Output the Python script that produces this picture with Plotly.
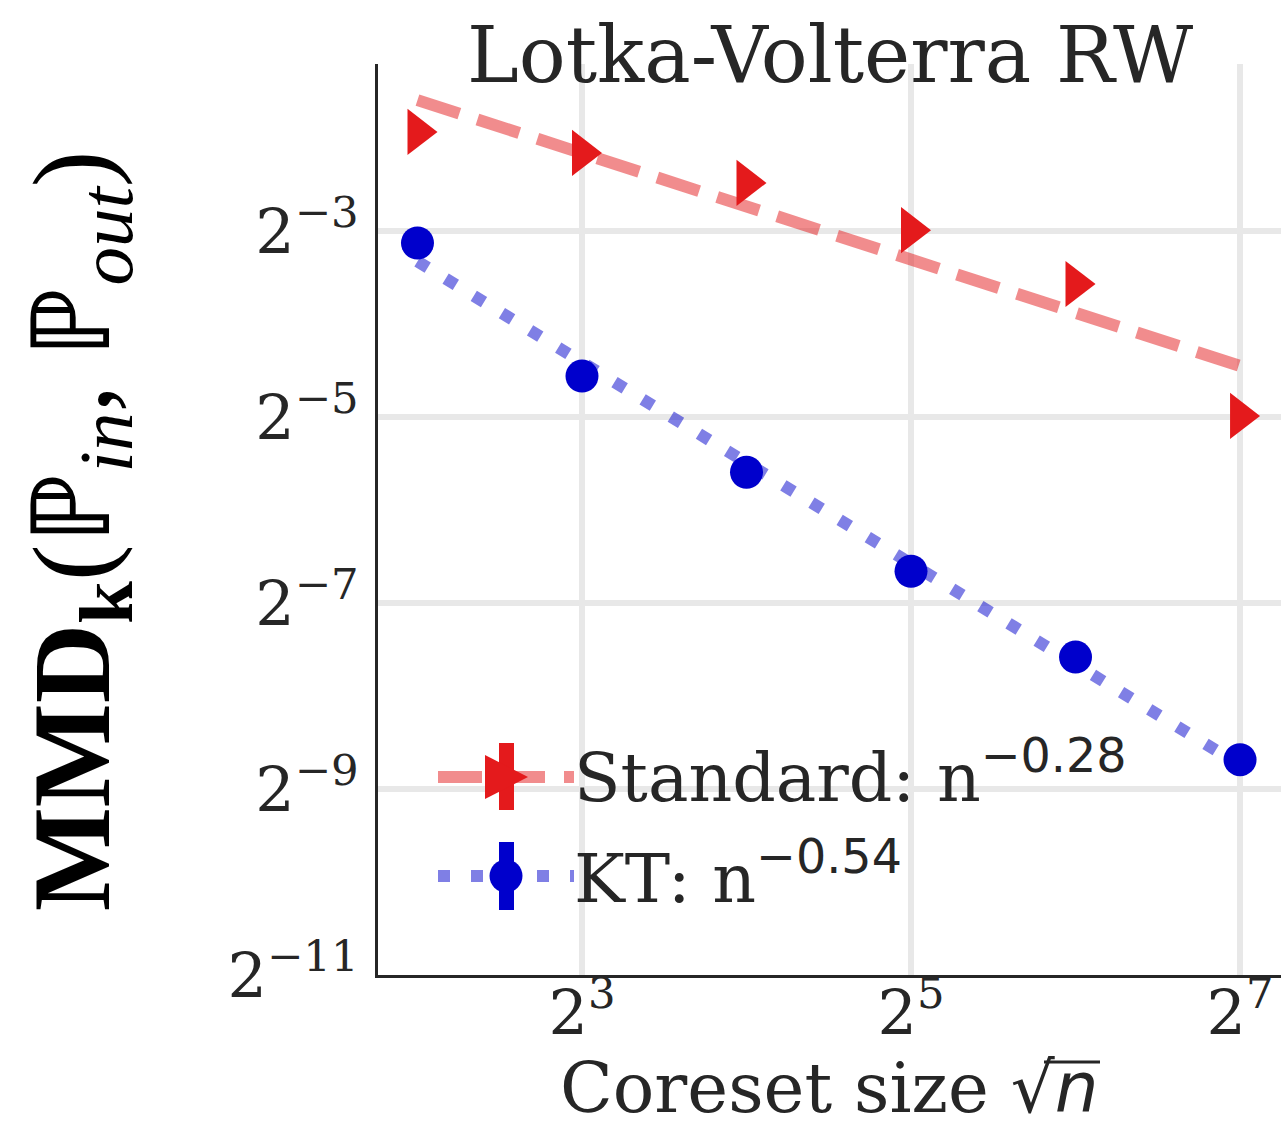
import numpy as np
import plotly.graph_objects as go

# ---------------- data ----------------
coreset_size = [4, 8, 16, 32, 64, 128]            # sqrt(n)
standard_mmd = [0.2616, 0.2237, 0.1789, 0.1258, 0.0842, 0.0315]
kt_mmd = [0.1143, 0.0424, 0.0207, 0.00990, 0.00522, 0.00243]
series_names = ["Standard", "KT"]
rate_labels = ["\u22120.28", "\u22120.54"]
x_tick_vals = [8, 32, 128]
x_tick_text = ["2<sup>3</sup>", "2<sup>5</sup>", "2<sup>7</sup>"]
y_tick_vals = [2.0 ** -3, 2.0 ** -5, 2.0 ** -7, 2.0 ** -9, 2.0 ** -11]
y_tick_text = ["2<sup>\u22123</sup>", "2<sup>\u22125</sup>", "2<sup>\u22127</sup>",
               "2<sup>\u22129</sup>", "2<sup>\u221211</sup>"]

# ---------------- styling ----------------
RED = "#e41a1c"
RED_LINE = "rgba(228,26,28,0.5)"
BLUE = "#0000cc"
BLUE_LINE = "rgba(0,0,204,0.5)"
TXT = "#262626"
GRID = "#e8e8e8"
SERIF = "DejaVu Serif"

W_FIG, H_FIG = 1281, 1126
L, R, T, B = 378, 1281, 64, 975
PW, PH = R - L, B - T


def px(xp):
    return (xp - L) / PW


def py(yp):
    return (B - yp) / PH


def loglog_fit(x, y):
    lx, ly = np.log2(x), np.log2(y)
    slope, icpt = np.polyfit(lx, ly, 1)
    return [2.0 ** (icpt + slope * v) for v in lx]


fig = go.Figure()

# fitted rate lines
fig.add_trace(go.Scatter(x=coreset_size, y=loglog_fit(coreset_size, standard_mmd),
                         mode="lines", line=dict(color=RED_LINE, width=12, dash="44px,19px"),
                         showlegend=False, hoverinfo="skip"))
fig.add_trace(go.Scatter(x=coreset_size, y=loglog_fit(coreset_size, kt_mmd),
                         mode="lines", line=dict(color=BLUE_LINE, width=12, dash="12px,21px"),
                         showlegend=False, hoverinfo="skip"))
# markers
fig.add_trace(go.Scatter(x=coreset_size, y=standard_mmd, mode="markers", name=series_names[0],
                         marker=dict(symbol="triangle-right", size=40, color=RED, line=dict(width=0)),
                         showlegend=False))
fig.add_trace(go.Scatter(x=coreset_size, y=kt_mmd, mode="markers", name=series_names[1],
                         marker=dict(symbol="circle", size=33, color=BLUE, line=dict(width=0)),
                         showlegend=False))

l2 = np.log10(2)
fig.update_xaxes(type="log", range=[1.760 * l2, 7.249 * l2],
                 tickvals=x_tick_vals, ticktext=x_tick_text,
                 tickfont=dict(family=SERIF, size=62, color=TXT),
                 showgrid=True, gridcolor=GRID, gridwidth=6,
                 showline=True, linecolor=TXT, linewidth=3, ticks="",
                 zeroline=False, ticklabelstandoff=-18)
fig.update_yaxes(type="log", range=[-11 * l2, -1.204 * l2],
                 tickvals=y_tick_vals, ticktext=y_tick_text,
                 tickfont=dict(family=SERIF, size=62, color=TXT),
                 showgrid=True, gridcolor=GRID, gridwidth=6,
                 showline=True, linecolor=TXT, linewidth=3, ticks="",
                 zeroline=False, ticklabelstandoff=4)

# ---------------- custom legend (glyphs) ----------------
shapes = []
# Standard
shapes.append(dict(type="line", xref="paper", yref="paper", x0=px(438), x1=px(574), y0=py(777), y1=py(777),
                   line=dict(color=RED_LINE, width=12, dash="44px,19px")))
shapes.append(dict(type="line", xref="paper", yref="paper", x0=px(506.5), x1=px(506.5), y0=py(743), y1=py(810),
                   line=dict(color=RED, width=15)))
shapes.append(dict(type="path", xref="paper", yref="paper",
                   path=f"M{px(485)},{py(755)} L{px(528)},{py(777)} L{px(485)},{py(799)} Z",
                   fillcolor=RED, line=dict(width=0)))
# KT
shapes.append(dict(type="line", xref="paper", yref="paper", x0=px(438), x1=px(574), y0=py(876), y1=py(876),
                   line=dict(color=BLUE_LINE, width=12, dash="12px,21px")))
shapes.append(dict(type="line", xref="paper", yref="paper", x0=px(506.5), x1=px(506.5), y0=py(842), y1=py(910),
                   line=dict(color=BLUE, width=15)))
shapes.append(dict(type="circle", xref="paper", yref="paper", x0=px(489.5), x1=px(522.5), y0=py(859.5), y1=py(892.5),
                   fillcolor=BLUE, line=dict(width=0)))
# vinculum of the square-root sign in the x-axis title
shapes.append(dict(type="line", xref="paper", yref="paper", x0=px(1044), x1=px(1100), y0=py(1062), y1=py(1062),
                   line=dict(color=TXT, width=3)))

SANS_SUP = '<sup><span style="font-family:DejaVu Sans">{}</span></sup>'
annotations = [
    dict(text=f"{series_names[0]}: n" + SANS_SUP.format(rate_labels[0]), xref="paper", yref="paper",
         x=px(572), y=py(772), xanchor="left", yanchor="middle", showarrow=False,
         font=dict(family=SERIF, size=68, color=TXT)),
    dict(text=f"{series_names[1]}: n" + SANS_SUP.format(rate_labels[1]), xref="paper", yref="paper",
         x=px(572), y=py(873), xanchor="left", yanchor="middle", showarrow=False,
         font=dict(family=SERIF, size=68, color=TXT)),
    # title
    dict(text="Lotka-Volterra RW", xref="paper", yref="paper", x=px(830), y=py(55),
         xanchor="center", yanchor="middle", showarrow=False,
         font=dict(family=SERIF, size=78, color=TXT)),
    # x axis title
    dict(text='Coreset size <span style="font-family:DejaVu Sans">\u221a<i>n</i></span>',
         xref="paper", yref="paper", x=px(829), y=py(1088),
         xanchor="center", yanchor="middle", showarrow=False,
         font=dict(family=SERIF, size=69, color=TXT)),
    # y axis title
    dict(text="<b>MMD</b><sub><b>k</b></sub>(\u2119<sub><i>in</i></sub>, \u2119<sub><i>out</i></sub>)",
         xref="paper", yref="paper", x=px(80), y=py(531),
         xanchor="center", yanchor="middle", showarrow=False, textangle=-90,
         font=dict(family="Liberation Serif", size=110, color="black")),
]

fig.update_layout(width=W_FIG, height=H_FIG, autosize=False,
                  margin=dict(l=L, r=W_FIG - R, t=T, b=H_FIG - B, pad=0),
                  paper_bgcolor="white", plot_bgcolor="white",
                  shapes=shapes, annotations=annotations, showlegend=False)

fig.write_html("out.html", config={"displayModeBar": False},
               post_script="document.body.style.margin='0';document.body.style.overflow='hidden';")
